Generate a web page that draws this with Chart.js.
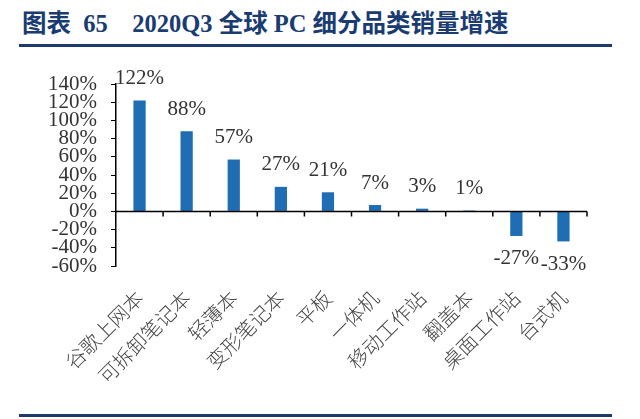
<!DOCTYPE html>
<html lang="zh">
<head>
    <meta charset="UTF-8">
    <title>2020Q3 全球 PC 细分品类销量增速</title>
    <script src="https://cdn.jsdelivr.net/npm/chart.js"></script>
    <style>
        html, body {
            margin: 0;
            padding: 0;
            background: #fff;
            width: 640px;
            height: 419px;
            overflow: hidden;
        }

        #title {
            position: absolute;
            left: 22px;
            top: 9px;
            font-family: "Liberation Serif", "Noto Sans CJK SC", serif;
            font-weight: bold;
            font-size: 24.5px;
            line-height: 30px;
            color: #1a3c72;
            white-space: pre;
        }

        .rule {
            position: absolute;
            left: 19px;
            width: 593px;
            height: 3px;
            background: #1c3a6b;
        }

        #chart-box {
            position: absolute;
            left: 0;
            top: 50px;
            width: 640px;
            height: 355px;
        }
    </style>
</head>
<body>
<div id="title">图表  65    2020Q3 全球 PC 细分品类销量增速</div>
<div class="rule" style="top: 44px;"></div>
<div class="rule" style="top: 414px;"></div>

<div id="chart-box">
    <canvas id="growthChart"></canvas>
</div>

<script>
    // Data
    const categories = ['谷歌上网本', '可拆卸笔记本', '轻薄本', '变形笔记本', '平板', '一体机', '移动工作站', '翻盖本', '桌面工作站', '台式机'];
    const growth = [122, 88, 57, 27, 21, 7, 3, 1, -27, -33];
    const yMin = -60;
    const yMax = 140;
    const yStep = 20;

    const textColor = '#333333';
    const serif = 'Liberation Serif';

    // Value labels above/below bars, plus the zero line with its tick marks
    const barLabels = {
        id: 'barLabels',
        afterDatasetsDraw(chart) {
            const ctx = chart.ctx;
            const xScale = chart.scales.x;
            const yScale = chart.scales.y;
            const area = chart.chartArea;
            const zeroY = yScale.getPixelForValue(0);

            ctx.save();
            // zero line
            ctx.strokeStyle = '#000';
            ctx.lineWidth = 1.5;
            ctx.beginPath();
            ctx.moveTo(area.left, zeroY);
            ctx.lineTo(area.right, zeroY);
            const half = (xScale.getPixelForValue(1) - xScale.getPixelForValue(0)) / 2;
            for (let i = 0; i < categories.length; i++) {
                const bx = xScale.getPixelForValue(i) + half;
                ctx.moveTo(bx, zeroY);
                ctx.lineTo(bx, zeroY + 5);
            }
            ctx.stroke();

            // labels
            ctx.fillStyle = textColor;
            ctx.font = '21px "' + serif + '"';
            ctx.textAlign = 'center';
            ctx.textBaseline = 'middle';
            const meta = chart.getDatasetMeta(0);
            meta.data.forEach((bar, i) => {
                const v = growth[i];
                const y = v >= 0 ? bar.y - 22 : bar.y + 23;
                ctx.fillText(v + '%', bar.x, y);
            });
            ctx.restore();
        }
    };

    const ctx = document.getElementById('growthChart').getContext('2d');
    const chart = new Chart(ctx, {
        type: 'bar',
        data: {
            labels: categories,
            datasets: [{
                data: growth,
                backgroundColor: '#1f6db2',
                borderWidth: 0,
                barPercentage: 0.26,
                categoryPercentage: 1.0
            }]
        },
        options: {
            responsive: true,
            maintainAspectRatio: false,
            animation: false,
            layout: {
                padding: { top: 34, right: 53, left: 0, bottom: 0 }
            },
            plugins: {
                legend: { display: false },
                tooltip: { enabled: false }
            },
            scales: {
                x: {
                    grid: { display: false },
                    border: { display: false },
                    afterFit: scale => { scale.height = 139; },
                    ticks: {
                        autoSkip: false,
                        maxRotation: 45,
                        minRotation: 45,
                        padding: 12,
                        color: '#444444',
                        font: { family: 'Noto Sans CJK SC', size: 20, weight: 300 }
                    }
                },
                y: {
                    min: yMin,
                    max: yMax,
                    afterFit: scale => { scale.width = 116; },
                    border: { display: true, color: '#000', width: 1.5 },
                    grid: {
                        drawOnChartArea: false,
                        drawTicks: true,
                        tickLength: 5,
                        color: '#000'
                    },
                    ticks: {
                        stepSize: yStep,
                        autoSkip: false,
                        padding: 14,
                        color: textColor,
                        font: { family: serif, size: 21 },
                        callback: v => v + '%'
                    }
                }
            }
        },
        plugins: [barLabels]
    });
</script>
</body>
</html>
